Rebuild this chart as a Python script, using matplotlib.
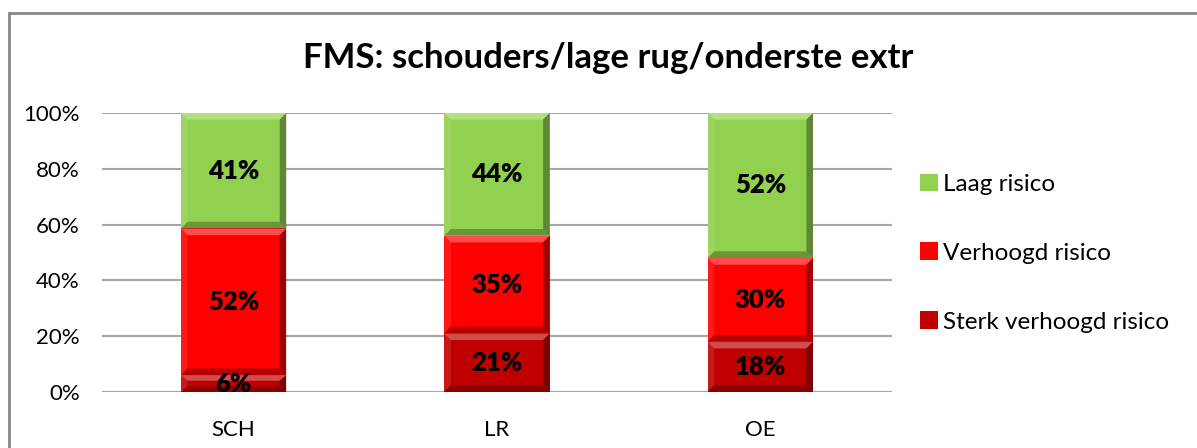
import matplotlib
matplotlib.use("Agg")
import matplotlib.pyplot as plt
from matplotlib.patches import Polygon, Rectangle, Patch
import numpy as np

plt.rcParams['font.family'] = ['Lato', 'DejaVu Sans']

# --- DATA ---
categories = ["SCH", "LR", "OE"]
series_names = ["Sterk verhoogd risico", "Verhoogd risico", "Laag risico"]
sterk = [6, 21, 18]
verhoogd = [52, 35, 30]
laag = [41, 44, 52]
colors = ["#C00000", "#FF0000", "#92D050"]
title = "FMS: schouders/lage rug/onderste extr"

values = np.array([sterk, verhoogd, laag], dtype=float)
shares = values / values.sum(axis=0)   # 100% stacked, like Excel

fig = plt.figure(figsize=(11.97, 4.48), dpi=100)
ax = fig.add_axes([0.0852, 0.125, 0.66, 0.623])

x = np.arange(len(categories))
width = 0.4
bx = 0.025   # bevel sizes (data units)
by = 0.024

def bevel(ax, x0, y0, w, h, color):
    ax.add_patch(Rectangle((x0, y0), w, h, facecolor=color, edgecolor="none", zorder=2))
    x1, y1 = x0 + w, y0 + h
    b_y = min(by, h / 3)
    b_x = bx
    top = [(x0, y1), (x1, y1), (x1 - b_x, y1 - b_y), (x0 + b_x, y1 - b_y)]
    bot = [(x0, y0), (x1, y0), (x1 - b_x, y0 + b_y), (x0 + b_x, y0 + b_y)]
    left = [(x0, y0), (x0, y1), (x0 + b_x, y1 - b_y), (x0 + b_x, y0 + b_y)]
    right = [(x1, y0), (x1, y1), (x1 - b_x, y1 - b_y), (x1 - b_x, y0 + b_y)]
    ax.add_patch(Polygon(top, facecolor="white", alpha=0.3, edgecolor="none", zorder=3))
    ax.add_patch(Polygon(left, facecolor="white", alpha=0.1, edgecolor="none", zorder=3))
    ax.add_patch(Polygon(right, facecolor="black", alpha=0.35, edgecolor="none", zorder=3))
    ax.add_patch(Polygon(bot, facecolor="black", alpha=0.28, edgecolor="none", zorder=3))

bottoms = np.zeros(len(categories))
for s in range(len(series_names)):
    for i in range(len(categories)):
        bevel(ax, x[i] - width / 2, bottoms[i], width, shares[s, i], colors[s])
        ax.text(x[i], bottoms[i] + shares[s, i] / 2, f"{int(values[s, i])}%",
                ha="center", va="center", fontsize=18.5, fontweight="heavy",
                color="black", zorder=5)
    bottoms += shares[s]

ax.set_xlim(-0.5, len(categories) - 0.5)
ax.set_ylim(0, 1)
ax.set_yticks(np.arange(0, 1.01, 0.2))
ax.set_yticklabels([f"{int(round(t * 100))}%" for t in np.arange(0, 1.01, 0.2)])
ax.set_xticks(x)
ax.set_xticklabels(categories)
ax.tick_params(length=0, labelsize=16)
ax.tick_params(axis='y', pad=16)
ax.tick_params(axis='x', pad=20)
ax.yaxis.grid(True, color="#A6A6A6", linewidth=1.5)
ax.set_axisbelow(True)
for sp in ax.spines.values():
    sp.set_visible(False)

handles = [Patch(facecolor=colors[s], edgecolor="none") for s in [2, 1, 0]]
labels = [series_names[s] for s in [2, 1, 0]]
fig.legend(handles, labels, loc="center left", bbox_to_anchor=(0.750, 0.435),
           frameon=False, fontsize=17.5, handlelength=0.75, handleheight=0.75,
           handletextpad=0.2, labelspacing=1.95)

fig.text(0.508, 0.87, title, ha="center", va="center", fontsize=25, fontweight="bold")

# chart border
fig.add_artist(Rectangle((8.5 / 1197, -0.1), 1.2, 1 - 13.5 / 448 + 0.1,
                         transform=fig.transFigure, fill=False,
                         edgecolor="#868686", linewidth=2))

fig.savefig("out.png", dpi=100)
